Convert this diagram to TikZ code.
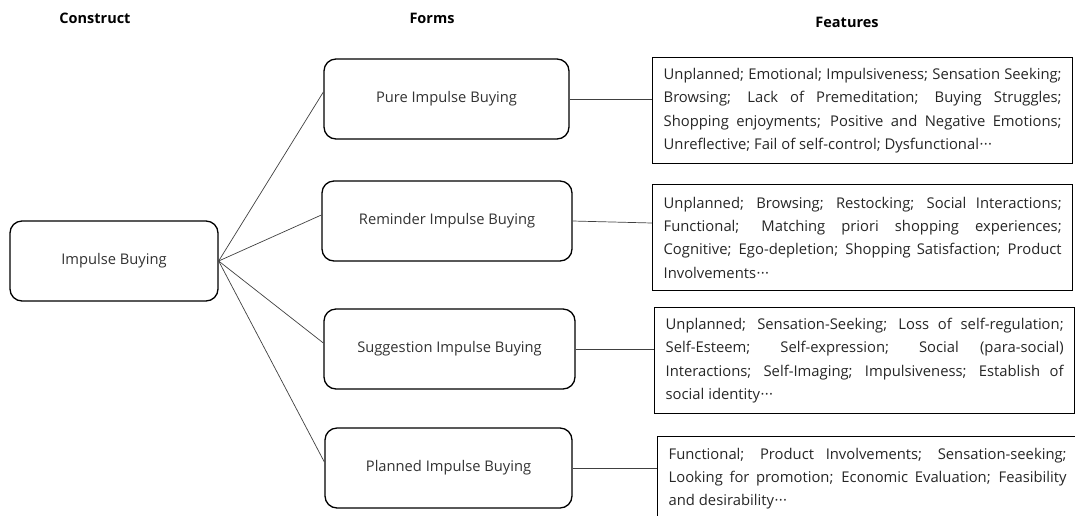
\documentclass[tikz,border=0pt]{standalone}
\usepackage{fontspec}
\setmainfont{Open Sans}
\newcommand{\trail}{\kern0.5pt·\kern0.3pt·\kern0.3pt·}
\begin{document}
\begin{tikzpicture}[x=1pt,y=-1pt,
  head/.style={font=\bfseries\fontsize{14.5}{16}\selectfont, text=black},
  rbox/.style={draw, line width=1.3pt, rounded corners=12pt, fill=white,
    minimum width=248pt, minimum height=80pt, inner sep=0pt,
    font=\fontsize{14.7}{16}\selectfont, text=black!80},
  featbox/.style={draw, line width=1.3pt, anchor=north west, inner xsep=11pt, inner ysep=0pt,
    text width=398pt, align=justify, minimum height=106pt,
    font=\fontsize{14.8}{23.4}\selectfont, text=black!85},
  link/.style={draw=black!75, line width=0.7pt}]
\useasboundingbox (0,0) rectangle (1075,515);

% column headings
\node[head] (hc) at (95,18) {Construct};
\node[head] (hf) at (432,18) {Forms};
\node[head] (hr) at (847,22) {Features};

% construct
\node[rbox, minimum width=208pt, minimum height=80pt] (ib) at (114,261) {Impulse Buying};

% forms
\node[rbox, minimum width=245pt] (pure) at (446.5,99) {Pure Impulse Buying};
\node[rbox, minimum width=250pt] (rem) at (447,221) {Reminder Impulse Buying};
\node[rbox, minimum width=251pt] (sug) at (449.5,349) {Suggestion Impulse Buying};
\node[rbox, minimum width=247pt] (pla) at (448.5,468) {Planned Impulse Buying};

% features
\node[featbox] (f1) at (652,57) {Unplanned; Emotional; Impulsiveness; Sensation Seeking;\linebreak
Browsing; Lack of Premeditation; Buying Struggles;\linebreak
Shopping enjoyments; Positive and Negative Emotions;\linebreak
Unreflective; Fail of self-control; Dysfunctional\trail};
\node[featbox] (f2) at (652,184) {Unplanned; Browsing; Restocking; Social Interactions;\linebreak
Functional; Matching priori shopping experiences;\linebreak
Cognitive; Ego-depletion; Shopping Satisfaction; Product\linebreak
Involvements\trail};
\node[featbox] (f3) at (654,307) {Unplanned; Sensation-Seeking; Loss of self-regulation;\linebreak
Self-Esteem; Self-expression; Social (para-social)\linebreak
Interactions; Self-Imaging; Impulsiveness; Establish of\linebreak
social identity\trail};
\node[featbox, minimum height=84pt] (f4) at (657,436) {Functional; Product Involvements; Sensation-seeking;\linebreak
Looking for promotion; Economic Evaluation; Feasibility\linebreak
and desirability\trail};

% connectors from the construct to its forms
\draw[link] (ib.east) -- ([yshift=7pt]pure.west);
\draw[link] (ib.east) -- ([yshift=6pt]rem.west);
\draw[link] (ib.east) -- ([yshift=6pt]sug.west);
\draw[link] (ib.east) -- ([yshift=6pt]pla.west);

% connectors from the forms to their features
\draw[link] (pure.east) -- (pure.east -| f1.west);
\draw[link] (rem.east) -- ([yshift=-2pt]rem.east -| f2.west);
\draw[link] (sug.east) -- (sug.east -| f3.west);
\draw[link] (pla.east) -- (pla.east -| f4.west);
\end{tikzpicture}
\end{document}
